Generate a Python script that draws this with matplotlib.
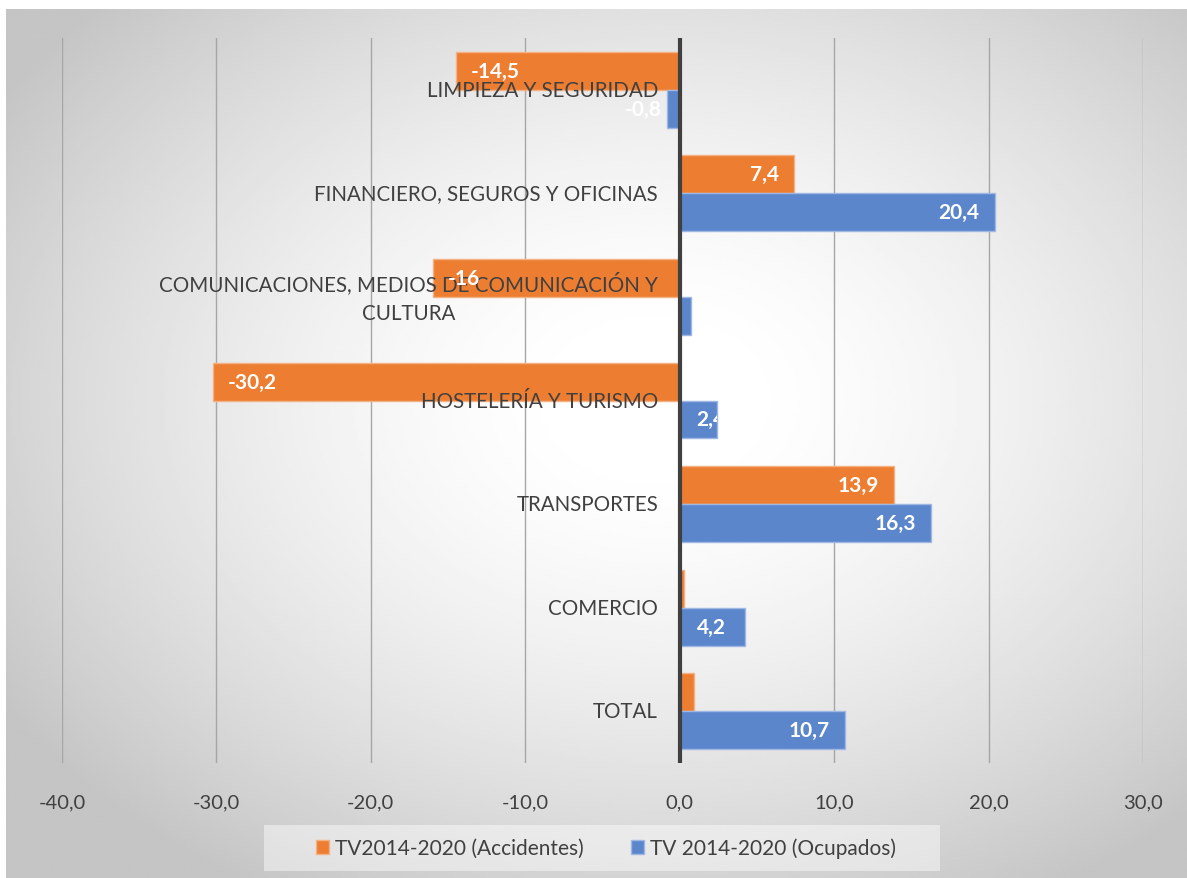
import numpy as np
import matplotlib
matplotlib.use("Agg")
import matplotlib.pyplot as plt
from matplotlib.patches import Rectangle
from matplotlib.transforms import TransformedBbox

plt.rcParams['font.family'] = ['Lato', 'DejaVu Sans']

categorias = ["LIMPIEZA Y SEGURIDAD",
              "FINANCIERO, SEGUROS Y OFICINAS",
              "COMUNICACIONES, MEDIOS DE COMUNICACIÓN Y\nCULTURA",
              "HOSTELERÍA Y TURISMO",
              "TRANSPORTES",
              "COMERCIO",
              "TOTAL"]
accidentes = [-14.5, 7.4, -16.0, -30.2, 13.9, 0.3, 0.9]
ocupados = [-0.8, 20.4, 0.7, 2.4, 16.3, 4.2, 10.7]
# etiquetas tal como aparecen en el grafico original
etiq_accidentes = ["-14,5", "7,4", "-16", "-30,2", "13,9", "0,3", "0,9"]
etiq_ocupados = ["-0,8", "20,4", "0,7", "2,4", "16,3", "4,2", "10,7"]
serie_nombres = ["TV2014-2020 (Accidentes)", "TV 2014-2020 (Ocupados)"]
xticks = [-40, -30, -20, -10, 0, 10, 20, 30]

c_naranja = '#ED7D31'
c_azul = '#5B86CC'
c_texto = '#404040'

W, H = 1187, 879
fig = plt.figure(figsize=(W / 100, H / 100), dpi=100)

# fondo con degradado radial
bg = fig.add_axes([6 / W, 0, 1 - 6 / W, 1 - 10 / H], zorder=-5)
gx, gy = np.meshgrid(np.linspace(0, 1, 400), np.linspace(0, 1, 300))
d = np.sqrt(((gx - 0.55) / 0.6) ** 2 + ((gy - 0.45) / 0.6) ** 2)
t = np.clip((d - 0.1) / 1.0, 0, 1) ** 1.5
shade = 1.0 - t * (1.0 - 0.77)
bg.imshow(shade, cmap='gray', vmin=0, vmax=1, aspect='auto', extent=[0, 1, 0, 1],
          interpolation='bilinear')
bg.set_axis_off()

ax = fig.add_axes([62 / W, 1 - 764 / H, (1143 - 62) / W, (764 - 39) / H])
ax.patch.set_alpha(0)

y = np.arange(len(categorias))
h = 0.366
b1 = ax.barh(y - h / 2, accidentes, height=h, color=c_naranja, edgecolor='#f4b183',
             linewidth=1, zorder=3)
b2 = ax.barh(y + h / 2, ocupados, height=h, color=c_azul, edgecolor='#9fb7e3',
             linewidth=1, zorder=3)

ax.set_xlim(-40, 30)
ax.set_ylim(len(categorias) - 0.5, -0.5)
ax.set_xticks(xticks)
ax.set_xticklabels([f"{v:.1f}".replace('.', ',') for v in xticks], fontsize=14.5,
                   color=c_texto)
ax.set_yticks([])
ax.tick_params(axis='x', length=0, pad=22)
for s in ax.spines.values():
    s.set_visible(False)
ax.grid(axis='x', color='#a6a6a6', linewidth=1, zorder=1)
ax.axvline(0, color='#404040', linewidth=3, zorder=4)

# etiquetas de categoria junto al eje
for i, cat in enumerate(categorias):
    ax.text(-1.4, i, cat, ha='right', va='center', multialignment='center',
            fontsize=14.8, color=c_texto, linespacing=1.55, zorder=6)

# etiquetas de datos (blancas, extremo interior; recortadas a la barra si no caben)
for bars, vals, labs in ((b1, accidentes, etiq_accidentes), (b2, ocupados, etiq_ocupados)):
    for bar, v, lab in zip(bars, vals, labs):
        yc = bar.get_y() + bar.get_height() / 2
        if v < 0:
            if abs(v) > 3:
                ax.text(v + 0.95, yc, lab, ha='left', va='center', color='white',
                        fontsize=15, fontweight='bold', zorder=7)
            else:
                ax.text(-1.15, yc, lab, ha='right', va='center', color='white',
                        fontsize=15, fontweight='bold', zorder=7)
        else:
            if v > 5:
                tx = ax.text(v - 1.0, yc, lab, ha='right', va='center', color='white',
                             fontsize=15, fontweight='bold', zorder=7)
            else:
                tx = ax.text(1.1, yc, lab, ha='left', va='center', color='white',
                             fontsize=15, fontweight='bold', zorder=7)
            tx.set_clip_box(TransformedBbox(bar.get_bbox(), ax.transData))
            tx.set_clip_on(True)

# leyenda
fig.patches.append(Rectangle((264 / W, 1 - 872 / H), (940 - 264) / W, 46 / H,
                             transform=fig.transFigure, facecolor='white', alpha=0.45,
                             edgecolor='none', zorder=-1))
fig.legend([b1, b2], serie_nombres, loc='center', bbox_to_anchor=(606 / W, 1 - 849 / H),
           ncol=2, frameon=False, fontsize=15, handlelength=0.63, handleheight=0.63,
           handletextpad=0.25, columnspacing=2.3, labelcolor=c_texto)

fig.savefig("out.png", dpi=100)
